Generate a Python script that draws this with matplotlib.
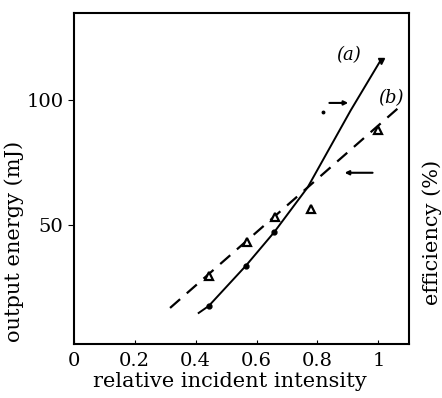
import matplotlib.pyplot as plt
import numpy as np

plt.rcParams['font.family'] = ['DejaVu Serif']

# curve (a): output energy, solid line
a_line_x = [0.41, 0.443, 0.564, 0.658, 0.768, 0.909, 1.007]
a_line_y = [14.8, 17.6, 33.6, 47.2, 65.2, 96.0, 116.0]
a_pts_x = [0.443, 0.564, 0.658]
a_pts_y = [17.6, 33.6, 47.2]

# curve (b): efficiency, dashed line
b_line_x = [0.316, 1.075]
b_line_y = [16.8, 98]
b_pts_x = [0.443, 0.567, 0.661, 0.779, 1.0]
b_pts_y = [29.6, 43.2, 53.2, 56.5, 88.2]

xticks = [0, 0.2, 0.4, 0.6, 0.8, 1]
xticklabels = ['0', '0.2', '0.4', '0.6', '0.8', '1']
yticks = [50, 100]

fig = plt.figure(figsize=(4.42, 3.98), dpi=100)
ax = fig.add_axes([0.167, 0.136, 0.758, 0.831])

ax.plot(a_line_x, a_line_y, color='black', lw=1.4)
ax.plot(a_pts_x, a_pts_y, 'o', color='black', ms=3.5)
ax.plot([1.007], [116], 'v', color='black', ms=5)
ax.plot([0.818], [95.2], 'o', color='black', ms=1.8)

ax.plot(b_line_x, b_line_y, color='black', lw=1.6, dashes=(6, 4))
ax.plot(b_pts_x, b_pts_y, '^', mfc='white', mec='black', mew=1.6, ms=5.5)

# arrows pointing to the respective axes
ax.annotate('', xy=(0.91, 99), xytext=(0.83, 99),
            arrowprops=dict(arrowstyle='-|>', color='black', lw=1.5, mutation_scale=6))
ax.annotate('', xy=(0.88, 71), xytext=(0.99, 71),
            arrowprops=dict(arrowstyle='-|>', color='black', lw=1.5, mutation_scale=6))

ax.text(0.901, 118, '(a)', style='italic', fontsize=13, ha='center', va='center')
ax.text(1.04, 101, '(b)', style='italic', fontsize=13, ha='center', va='center')

ax.set_xlim(0.01, 1.10)
ax.set_ylim(2.4, 135)
ax.set_xticks(xticks)
ax.set_xticklabels(xticklabels, fontsize=14)
ax.set_yticks(yticks)
ax.set_yticklabels([str(v) for v in yticks], fontsize=14)
ax.tick_params(axis='x', direction='in', length=3, pad=6)
ax.tick_params(axis='y', direction='out', length=4)
for s in ax.spines.values():
    s.set_linewidth(1.5)

ax.set_xlabel('relative incident intensity', fontsize=15)
ax.xaxis.set_label_coords(0.465, -0.085)
ax.set_ylabel('output energy (mJ)', fontsize=15)
ax.yaxis.set_label_coords(-0.15, 0.31)
fig.text(0.978, 0.415, 'efficiency (%)', rotation=90, fontsize=15,
         ha='center', va='center')

fig.savefig('out.png', dpi=100)
